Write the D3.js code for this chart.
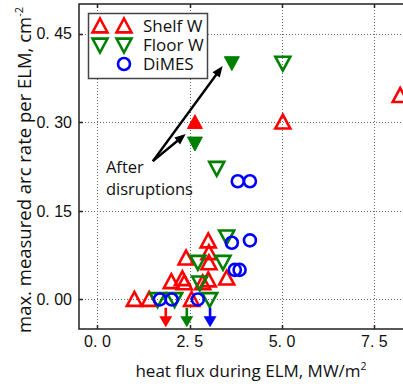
<!DOCTYPE html>
<html>
<head>
<meta charset="utf-8">
<script src="https://cdn.jsdelivr.net/npm/d3@7"></script>
<style>
  html, body { margin: 0; padding: 0; background: #fff; }
  svg { display: block; }
</style>
</head>
<body>
<svg></svg>
<script>
// arc rate vs heat flux, three series + two filled "after disruption" points
const shelfX = [1.0, 1.4, 2.0, 2.3, 2.35, 2.4, 2.55, 2.85, 3.0, 3.02, 3.02, 3.0, 3.5, 5.02, 8.2];
const shelfY = [0.0, 0.0, 0.03, 0.035, 0.028, 0.07, 0.0, 0.028, 0.033, 0.062, 0.079, 0.099, 0.036, 0.30, 0.345];
const floorX = [1.63, 2.09, 2.77, 2.72, 3.04, 3.4, 3.5, 3.23, 5.02];
const floorY = [0.0, 0.0, 0.028, 0.063, 0.0, 0.063, 0.106, 0.222, 0.40];
const dimesX = [1.69, 2.01, 2.72, 3.72, 3.85, 3.64, 4.13, 3.8, 4.13];
const dimesY = [0.0, 0.0, 0.0, 0.05, 0.05, 0.096, 0.10, 0.20, 0.20];
const shelfAfterX = [2.64];
const shelfAfterY = [0.30];
const floorAfterX = [3.64, 2.64];
const floorAfterY = [0.40, 0.264];
// arrows marking the mean flux of each set
const meanFluxX = [1.85, 2.42, 3.05];
const meanColors = ['#ff0000', '#008000', '#0000ff'];

const xTicks = [0, 2.5, 5, 7.5];
const yTicks = [0, 0.15, 0.30, 0.45];
const legendLabels = ['Shelf W', 'Floor W', 'DiMES'];

const WIDTH = 403;
const HEIGHT = 388;
const LEFT = 79;
const TOP = 4;
const BOTTOM = 329;

const RED = '#ff0000';
const GREEN = '#008000';
const BLUE = '#0000ff';

const svg = d3.select('svg').
attr('width', WIDTH).
attr('height', HEIGHT);

const xScale = d3.scaleLinear().domain([-0.5, 8.75]).range([LEFT, 420.5]);
const yScale = d3.scaleLinear().domain([-0.05, 0.5]).range([BOTTOM, TOP]);

const fmtTick = (d, p) => d3.format(p)(d).replace('.', '. ');

/* --GRID-- */
const grid = svg.append('g').
attr('stroke', '#666').
attr('stroke-width', 1).
attr('stroke-dasharray', '1,2');

grid.selectAll('line.gx').
data(xTicks).
join('line').
attr('class', 'gx').
attr('x1', d => Math.round(xScale(d)) + 0.5).
attr('x2', d => Math.round(xScale(d)) + 0.5).
attr('y1', TOP).
attr('y2', BOTTOM);

grid.selectAll('line.gy').
data(yTicks).
join('line').
attr('class', 'gy').
attr('x1', LEFT).
attr('x2', WIDTH).
attr('y1', d => Math.round(yScale(d)) + 0.5).
attr('y2', d => Math.round(yScale(d)) + 0.5);

/* --FRAME + TICKS-- */
const frame = svg.append('g').attr('stroke', '#222').attr('stroke-width', 1.5).attr('fill', 'none');
frame.append('path').attr('d', `M${WIDTH + 2},${TOP} H${LEFT} V${BOTTOM} H${WIDTH + 2}`);

frame.selectAll('line.tb').
data(xTicks).
join('line').
attr('class', 'tb').
attr('x1', d => Math.round(xScale(d)) + 0.5).
attr('x2', d => Math.round(xScale(d)) + 0.5).
attr('y1', BOTTOM).
attr('y2', BOTTOM - 4);

frame.selectAll('line.tt').
data(xTicks).
join('line').
attr('class', 'tt').
attr('x1', d => Math.round(xScale(d)) + 0.5).
attr('x2', d => Math.round(xScale(d)) + 0.5).
attr('y1', TOP).
attr('y2', TOP + 4);

frame.selectAll('line.tl').
data(yTicks).
join('line').
attr('class', 'tl').
attr('x1', LEFT).
attr('x2', LEFT + 4).
attr('y1', d => Math.round(yScale(d)) + 0.5).
attr('y2', d => Math.round(yScale(d)) + 0.5);

/* --TICK LABELS-- */
svg.append('g').
attr('font-family', '"Liberation Sans", Arial, sans-serif').
attr('font-size', 16).
attr('fill', '#111').
selectAll('text').
data(xTicks).
join('text').
attr('x', d => xScale(d)).
attr('y', 347).
attr('text-anchor', 'middle').
text(d => fmtTick(d, '.1f'));

svg.append('g').
attr('font-family', '"Liberation Sans", Arial, sans-serif').
attr('font-size', 16).
attr('fill', '#111').
selectAll('text').
data(yTicks).
join('text').
attr('x', 72).
attr('y', d => yScale(d)).
attr('dy', '0.36em').
attr('text-anchor', 'end').
text(d => fmtTick(d, '.2f'));

/* --AXIS LABELS-- */
const xLab = svg.append('text').
attr('font-family', '"Open Sans", sans-serif').
attr('font-size', 17).
attr('fill', '#111').
attr('x', 251).
attr('y', 377).
attr('text-anchor', 'middle');
xLab.append('tspan').text('heat flux during ELM, MW/m');
xLab.append('tspan').attr('font-size', 10.5).attr('dy', -7).text('2');

const yLab = svg.append('text').
attr('font-family', '"Open Sans", sans-serif').
attr('font-size', 18.5).
attr('fill', '#111').
attr('transform', 'translate(31,170) rotate(-90)').
attr('text-anchor', 'middle');
yLab.append('tspan').text('max. measured arc rate per ELM, cm');
yLab.append('tspan').attr('font-size', 11).attr('dy', -8).text('-2');

/* --MARKERS-- */
const TRI = 7.5;
const upPath = `M0,${-TRI} L${TRI},${TRI * 0.85} L${-TRI},${TRI * 0.85} Z`;
const downPath = `M0,${TRI} L${TRI},${-TRI * 0.85} L${-TRI},${-TRI * 0.85} Z`;

const zip = (xs, ys) => xs.map((x, i) => [x, ys[i]]);
const plotG = svg.append('g');

function drawMarkers(pts, path, color, filled) {
  plotG.append('g').
  selectAll('path').
  data(pts).
  join('path').
  attr('d', path).
  attr('transform', d => `translate(${xScale(d[0])},${yScale(d[1])})`).
  attr('fill', filled ? color : 'none').
  attr('stroke', color).
  attr('stroke-width', filled ? 1 : 2.6).
  attr('stroke-linejoin', 'miter');
}

drawMarkers(zip(shelfX, shelfY), upPath, RED, false);
drawMarkers(zip(shelfAfterX, shelfAfterY), upPath, RED, true);
drawMarkers(zip(floorX, floorY), downPath, GREEN, false);
drawMarkers(zip(floorAfterX, floorAfterY), downPath, GREEN, true);

plotG.append('g').
selectAll('circle').
data(zip(dimesX, dimesY)).
join('circle').
attr('cx', d => xScale(d[0])).
attr('cy', d => yScale(d[1])).
attr('r', 6).
attr('fill', 'none').
attr('stroke', BLUE).
attr('stroke-width', 2.6);

/* --MEAN ARROWS-- */
const arrowG = svg.append('g');
meanFluxX.forEach((v, i) => {
  const x = xScale(v);
  const y0 = yScale(-0.014);
  const y1 = yScale(-0.047);
  arrowG.append('line').
  attr('x1', x).attr('x2', x).
  attr('y1', y0).attr('y2', y1 - 8).
  attr('stroke', meanColors[i]).
  attr('stroke-width', 2.6);
  arrowG.append('path').
  attr('d', `M${x - 6.5},${y1 - 11} L${x + 6.5},${y1 - 11} L${x},${y1} Z`).
  attr('fill', meanColors[i]);
});

/* --ANNOTATION-- */
const tail = [1.5, 0.234];
const heads = [[3.39, 0.395], [2.39, 0.28]];
const annG = svg.append('g');
heads.forEach(h => {
  const x0 = xScale(tail[0]), y0 = yScale(tail[1]);
  const x1 = xScale(h[0]), y1 = yScale(h[1]);
  const ang = Math.atan2(y1 - y0, x1 - x0);
  const L = 11, W = 4.5;
  const bx = x1 - L * Math.cos(ang), by = y1 - L * Math.sin(ang);
  annG.append('line').
  attr('x1', x0).attr('y1', y0).
  attr('x2', bx + 2 * Math.cos(ang)).attr('y2', by + 2 * Math.sin(ang)).
  attr('stroke', '#000').
  attr('stroke-width', 2.4);
  annG.append('path').
  attr('d', `M${x1},${y1} L${bx - W * Math.sin(ang)},${by + W * Math.cos(ang)} L${bx + W * Math.sin(ang)},${by - W * Math.cos(ang)} Z`).
  attr('fill', '#000');
});

const annText = annG.append('text').
attr('font-family', '"Open Sans", sans-serif').
attr('font-size', 16.5).
attr('fill', '#111');
annText.append('tspan').attr('x', xScale(0.23)).attr('y', 173).text('After');
annText.append('tspan').attr('x', xScale(0.23)).attr('y', 195).text('disruptions');

/* --LEGEND-- */
const legendG = svg.append('g');
legendG.append('rect').
attr('x', 88.5).
attr('y', 13.5).
attr('width', 119).
attr('height', 65).
attr('fill', '#fff').
attr('stroke', '#444').
attr('stroke-width', 1.5);

const rowY = [26, 45, 64];
const legendMarkers = [
{ path: upPath, color: RED, xs: [100, 124] },
{ path: downPath, color: GREEN, xs: [100, 124] },
{ path: null, color: BLUE, xs: [124] }];

legendMarkers.forEach((m, i) => {
  m.xs.forEach(x => {
    if (m.path) {
      legendG.append('path').
      attr('d', m.path).
      attr('transform', `translate(${x},${rowY[i]})`).
      attr('fill', 'none').
      attr('stroke', m.color).
      attr('stroke-width', 2.6);
    } else {
      legendG.append('circle').
      attr('cx', x).
      attr('cy', rowY[i]).
      attr('r', 6).
      attr('fill', 'none').
      attr('stroke', m.color).
      attr('stroke-width', 2.6);
    }
  });
  legendG.append('text').
  attr('x', 143).
  attr('y', rowY[i]).
  attr('dy', '0.36em').
  attr('font-family', '"Open Sans", sans-serif').
  attr('font-size', 17).
  attr('fill', '#111').
  text(legendLabels[i]);
});
</script>
</body>
</html>
